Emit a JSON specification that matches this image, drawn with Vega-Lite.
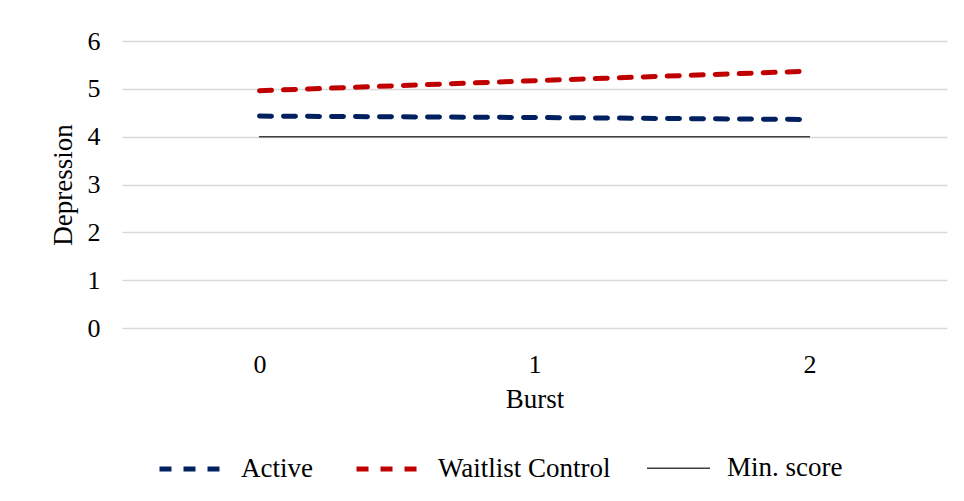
{
  "$schema": "https://vega.github.io/schema/vega-lite/v6.json",
  "width": 825,
  "height": 287,
  "autosize": "none",
  "padding": {"left": 122, "top": 41, "right": 17, "bottom": 173},
  "background": "white",
  "config": {"view": {"stroke": null}, "font": "Liberation Serif"},
  "data": {
    "values": [
      {"burst": "0", "series": "Active", "value": 4.43},
      {"burst": "1", "series": "Active", "value": 4.40},
      {"burst": "2", "series": "Active", "value": 4.36},
      {"burst": "0", "series": "Waitlist Control", "value": 4.96},
      {"burst": "1", "series": "Waitlist Control", "value": 5.17},
      {"burst": "2", "series": "Waitlist Control", "value": 5.37},
      {"burst": "0", "series": "Min. score", "value": 4},
      {"burst": "1", "series": "Min. score", "value": 4},
      {"burst": "2", "series": "Min. score", "value": 4}
    ]
  },
  "mark": {"type": "line", "strokeCap": "round"},
  "encoding": {
    "x": {
      "field": "burst", "type": "ordinal",
      "scale": {"type": "point", "padding": 0.5},
      "axis": {"title": "Burst", "labelAngle": 0, "domain": false, "ticks": false, "grid": false,
        "labelPadding": 23, "labelFontSize": 26, "labelColor": "black",
        "titleFontSize": 27, "titleFontWeight": "normal", "titleColor": "black", "titlePadding": 9}
    },
    "y": {
      "field": "value", "type": "quantitative",
      "scale": {"domain": [0, 6], "nice": false, "zero": true},
      "axis": {"title": "Depression", "values": [0, 1, 2, 3, 4, 5, 6], "domain": false, "ticks": false,
        "grid": true, "gridColor": "#d9d9d9", "gridWidth": 1.3,
        "labelPadding": 22, "labelFontSize": 26, "labelColor": "black",
        "titleFontSize": 27, "titleFontWeight": "normal", "titleColor": "black", "titlePadding": 10}
    },
    "color": {
      "field": "series", "type": "nominal",
      "scale": {"domain": ["Active", "Waitlist Control", "Min. score"], "range": ["#002060", "#C00000", "#404040"]},
      "legend": {"title": null, "orient": "none", "direction": "horizontal", "legendX": 35, "legendY": 394,
        "labelFontSize": 27, "labelColor": "black", "labelLimit": 400, "symbolType": "stroke", "symbolSize": 3969,
        "columnPadding": 33, "labelOffset": 16, "padding": 0}
    },
    "strokeDash": {
      "field": "series", "type": "nominal",
      "scale": {"domain": ["Active", "Waitlist Control", "Min. score"], "range": [[12, 12], [12, 12], [1, 0]]},
      "legend": {"title": null, "orient": "none", "direction": "horizontal", "legendX": 35, "legendY": 394,
        "labelFontSize": 27, "labelColor": "black", "labelLimit": 400, "symbolType": "stroke", "symbolSize": 3969,
        "columnPadding": 33, "labelOffset": 16, "padding": 0}
    },
    "strokeWidth": {
      "field": "series", "type": "ordinal",
      "scale": {"type": "ordinal", "domain": ["Active", "Waitlist Control", "Min. score"], "range": [5, 5, 1.5]},
      "legend": {"title": null, "orient": "none", "direction": "horizontal", "legendX": 35, "legendY": 394,
        "labelFontSize": 27, "labelColor": "black", "labelLimit": 400, "symbolType": "stroke", "symbolSize": 3969,
        "columnPadding": 33, "labelOffset": 16, "padding": 0}
    }
  }
}
